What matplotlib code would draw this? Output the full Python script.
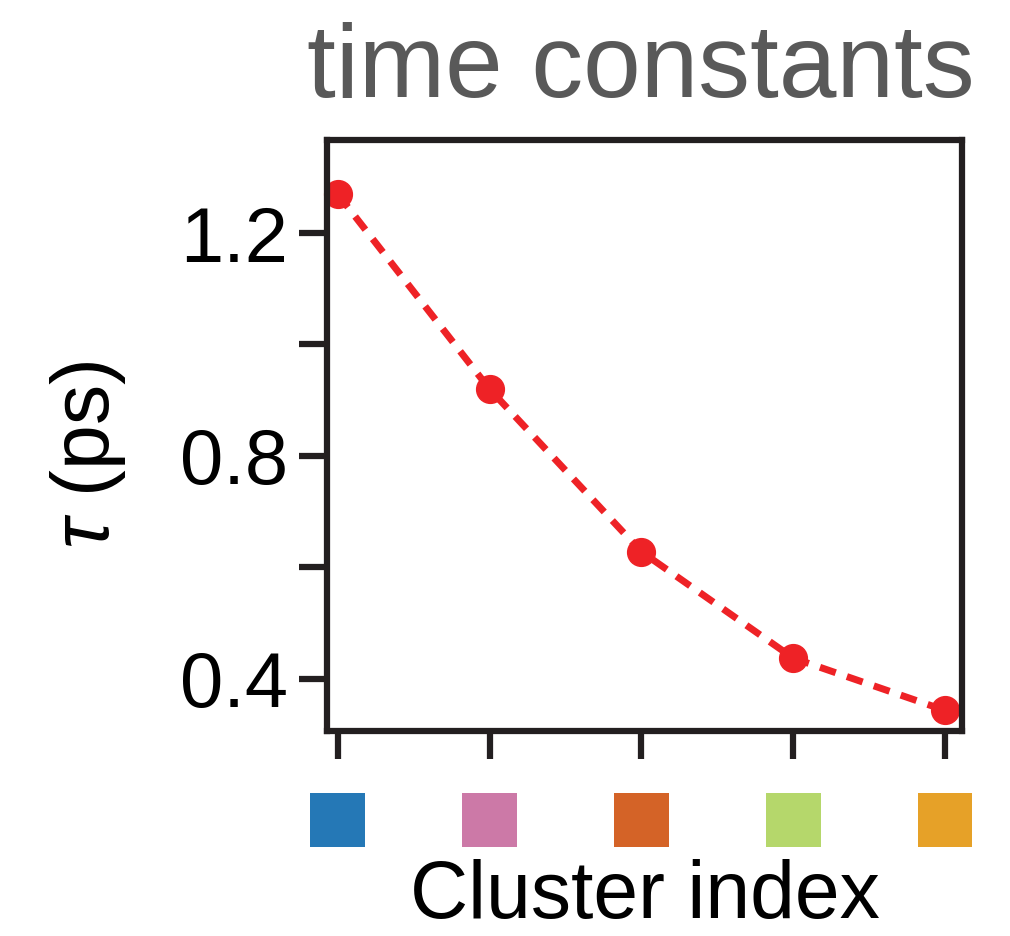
import matplotlib
matplotlib.use("Agg")
import matplotlib.pyplot as plt
import matplotlib.transforms as mtransforms

plt.rcParams['font.family'] = ['Liberation Sans', 'DejaVu Sans']
plt.rcParams['mathtext.fontset'] = 'custom'
plt.rcParams['mathtext.it'] = 'Liberation Sans:italic'
plt.rcParams['mathtext.rm'] = 'Liberation Sans'

cluster_index = [1, 2, 3, 4, 5]
tau_ps = [1.270, 0.920, 0.628, 0.437, 0.343]
cluster_colors = ['#2578B6', '#CC79A7', '#D46327', '#B5D76B', '#E6A128']
ytick_values = [0.4, 0.6, 0.8, 1.0, 1.2]
ytick_labels = ['0.4', '', '0.8', '', '1.2']

dark = '#231F20'
fig = plt.figure(figsize=(10.10, 9.36), dpi=100)
ax = fig.add_axes([0.3238, 0.219, 0.9525 - 0.3238, 0.8504 - 0.219])

ax.plot(cluster_index, tau_ps, color='#EE2226', linestyle=(0, (2.4, 1.7)), lw=5,
        marker='o', markersize=20, clip_on=False, zorder=2)

ax.set_xlim(0.93, 5.112)
ax.set_ylim(0.306, 1.367)
ax.set_xticks(cluster_index)
ax.set_xticklabels([])
ax.set_yticks(ytick_values)
ax.set_yticklabels(ytick_labels)

for s in ax.spines.values():
    s.set_linewidth(4.5)
    s.set_color(dark)
ax.tick_params(axis='both', length=20, width=4.5, color=dark, labelsize=56, pad=8,
               labelcolor='black')

# colored squares under ticks
trans = mtransforms.blended_transform_factory(ax.transData, ax.transAxes)
ax.scatter(cluster_index, [-0.1506] * len(cluster_index), marker='s', s=1560,
           c=cluster_colors, transform=trans, clip_on=False, linewidths=0)

ax.set_xlabel('Cluster index', fontsize=58, color='black')
ax.xaxis.label.set_va('baseline')
ax.xaxis.set_label_coords(0.5, -0.317)

ax.set_ylabel(r'$\tau$ (ps)', fontsize=58, color='black')
ax.yaxis.label.set_va('center')
ax.yaxis.set_label_coords(-0.376, 0.467)

fig.text(0.9653, 0.8964, 'time constants', fontsize=74.5, color='#595959',
         ha='right', va='baseline')

fig.savefig('out.png', dpi=100, facecolor='white')
